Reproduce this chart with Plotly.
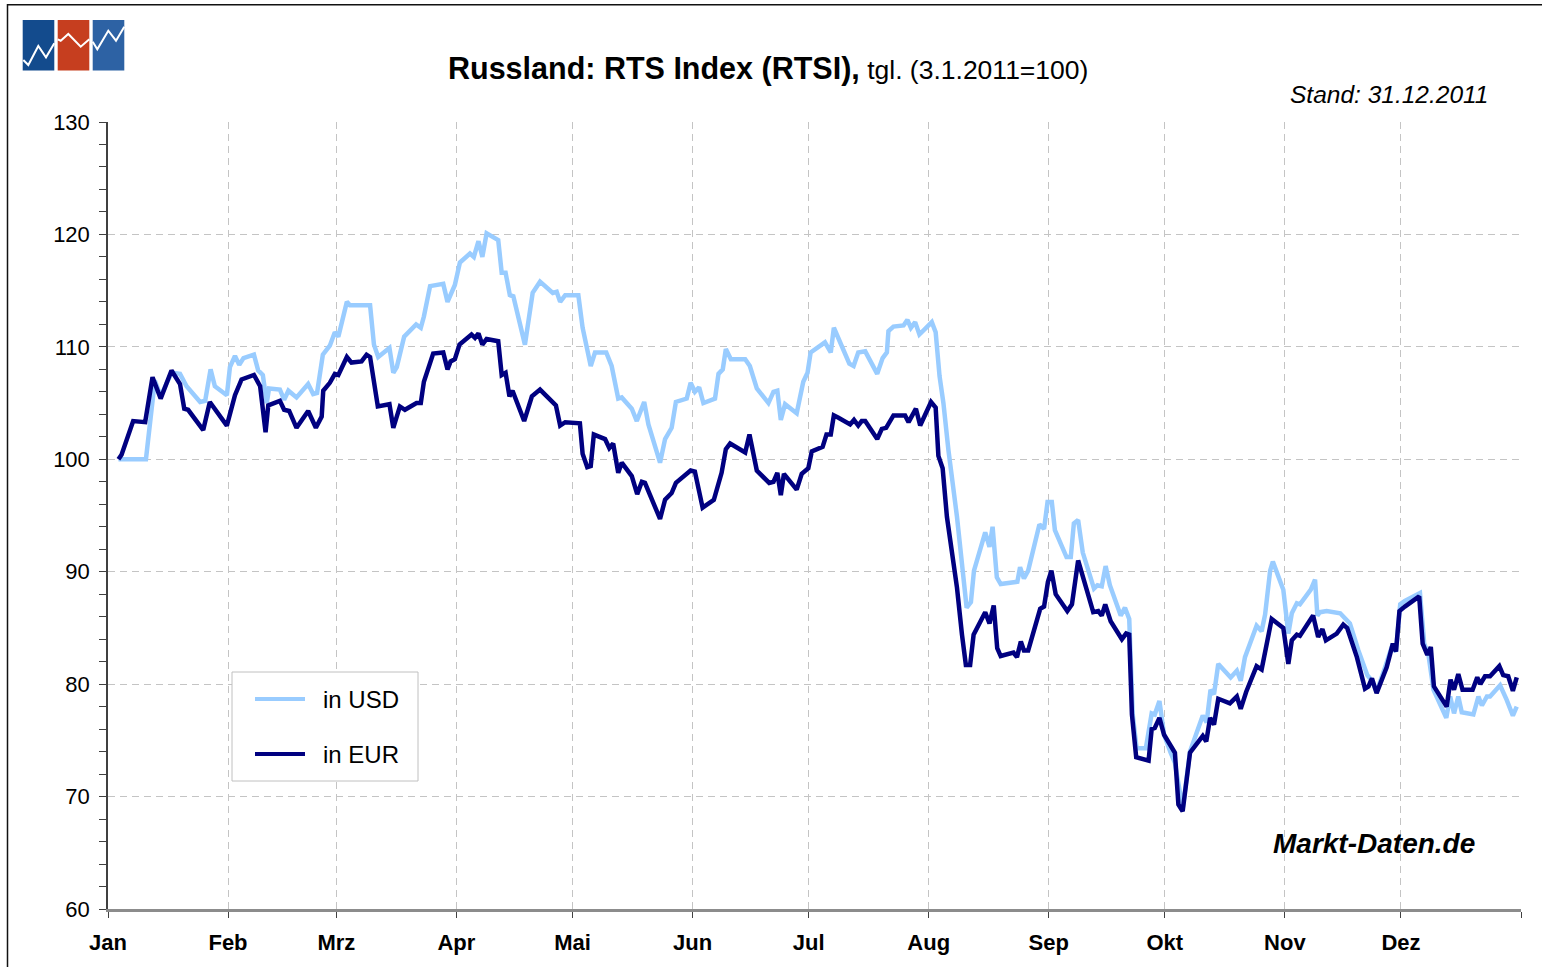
import pandas as pd
import plotly.graph_objects as go

# ---------------- data (days since 1 Jan 2011, index value 3.1.2011 = 100) -------------
usd_day = [2.7, 9.8, 12.1, 13.6, 16.4, 18.6, 20.3, 23.8, 25.1, 26.5, 27.6, 30.7, 31.5, 32.8, 33.9, 35.0,
           37.7, 38.8, 40.0, 41.0, 41.6, 44.4, 45.5, 46.6, 48.7, 51.7, 53.0, 54.0, 55.5, 57.3, 58.6, 59.5,
           61.7, 62.5, 67.7, 68.7, 69.8, 72.7, 73.7, 74.6, 76.5, 79.6, 80.8, 81.6, 83.2, 86.6, 87.7, 89.6,
           90.9, 93.5, 94.5, 95.7, 96.7, 97.8, 100.8, 101.7, 102.7, 103.8, 104.7, 107.7, 109.7, 111.6,
           114.9, 115.9, 116.8, 118.1, 121.5, 122.6, 124.7, 125.8, 128.7, 130.1, 131.8, 132.7, 135.3,
           136.6, 138.5, 139.6, 142.6, 143.9, 145.6, 146.7, 149.5, 150.5, 151.6, 152.7, 153.8, 156.8,
           157.7, 158.8, 159.6, 160.9, 164.6, 165.8, 167.6, 170.6, 171.9, 172.9, 173.8, 174.9, 177.9,
           179.6, 180.7, 181.5, 185.2, 185.8, 186.7, 187.5, 188.7, 191.5, 192.6, 193.8, 195.6, 198.7,
           200.1, 201.2, 201.6, 202.9, 205.5, 206.5, 207.4, 208.5, 209.6, 212.8, 213.8, 214.8, 215.8,
           217.1, 219.3, 220.6, 221.8, 222.9, 223.7, 226.6, 227.7, 228.5, 229.6, 230.6, 234.9, 235.6,
           236.6, 237.7, 240.6, 241.8, 242.7, 243.8, 244.6, 247.6, 248.7, 249.5, 250.6, 251.8, 254.7,
           255.6, 256.7, 257.7, 258.8, 261.6, 262.7, 263.8, 264.7, 265.7, 268.1, 269.6, 270.4, 271.6,
           272.8, 274.5, 275.6, 277.6, 279.5, 282.8, 283.8, 284.8, 285.7, 286.8, 290.0, 291.6, 292.6,
           293.7, 296.7, 298.0, 298.9, 300.2, 300.9, 303.6, 304.9, 305.8, 307.1, 307.9, 310.7, 311.8,
           312.4, 313.1, 314.8, 318.3, 320.8, 323.0, 325.3, 326.5, 327.7, 329.9, 331.6, 332.7, 333.8,
           335.0, 338.9, 340.0, 341.1, 342.4, 344.1, 345.7, 346.7, 347.7, 348.8, 349.7, 352.7, 354.0,
           354.9, 356.2, 357.0, 359.6, 361.3, 362.9, 363.9]
usd = [100.0, 100.0, 107.0, 105.6, 107.7, 107.6, 106.5, 105.1, 105.2, 108.0, 106.5, 105.7, 108.2, 109.2,
       108.4, 109.0, 109.3, 107.9, 107.5, 105.0, 106.3, 106.2, 105.3, 106.1, 105.5, 106.7, 105.8, 105.9,
       109.3, 110.1, 111.3, 110.9, 114.0, 113.7, 113.7, 110.2, 109.1, 109.9, 107.7, 108.2, 110.9, 112.0,
       111.7, 112.7, 115.4, 115.6, 114.0, 115.5, 117.5, 118.3, 118.0, 119.4, 118.0, 120.1, 119.5, 116.6,
       116.6, 114.6, 114.5, 110.2, 114.8, 115.8, 114.8, 114.9, 114.0, 114.6, 114.6, 111.7, 108.3, 109.5,
       109.5, 108.3, 105.4, 105.5, 104.5, 103.4, 105.1, 103.1, 99.7, 101.8, 102.8, 105.1, 105.4, 106.8,
       106.0, 106.4, 105.0, 105.4, 107.6, 108.0, 109.8, 108.9, 108.9, 108.3, 106.3, 105.0, 106.0, 106.1,
       103.5, 104.9, 104.1, 106.9, 107.7, 109.5, 110.4, 110.1, 109.5, 111.7, 110.7, 108.5, 108.3, 109.5,
       109.6, 107.6, 109.0, 109.5, 111.4, 111.8, 111.9, 112.4, 111.7, 112.2, 111.1, 112.2, 111.3, 107.4,
       105.0, 100.8, 94.9, 91.0, 86.8, 87.3, 90.1, 93.5, 92.2, 94.0, 89.5, 88.9, 89.1, 90.4, 89.4, 90.1,
       94.2, 93.8, 96.2, 96.2, 93.7, 91.3, 91.3, 94.3, 94.6, 91.7, 88.5, 88.8, 88.7, 90.5, 88.8, 86.1,
       86.8, 85.8, 77.3, 74.3, 74.3, 77.4, 77.3, 78.5, 75.5, 73.9, 73.0, 68.9, 74.0, 77.2, 76.6, 79.5,
       79.1, 81.8, 80.6, 81.2, 80.3, 82.4, 85.2, 84.7, 86.2, 90.1, 90.9, 88.4, 84.5, 86.3, 87.2, 87.1,
       88.4, 89.3, 86.1, 86.4, 86.5, 86.3, 85.4, 83.0, 80.8, 80.3, 79.3, 81.5, 83.3, 82.9, 87.1, 87.4,
       88.1, 83.6, 82.6, 79.5, 78.1, 77.0, 78.9, 77.4, 78.9, 77.5, 77.3, 78.9, 78.1, 78.9, 78.9, 79.9,
       78.6, 77.2, 78.0]

eur_day = [2.7, 3.5, 6.5, 9.6, 11.5, 13.6, 16.4, 18.6, 19.7, 20.7, 24.6, 26.3, 30.7, 32.8, 34.5, 37.7,
           39.3, 40.7, 41.4, 44.4, 45.5, 46.8, 48.7, 51.7, 53.7, 55.2, 55.6, 57.3, 58.6, 59.5, 61.7, 62.9,
           65.5, 66.8, 67.7, 69.7, 72.7, 73.7, 75.4, 76.7, 79.7, 80.8, 81.6, 83.2, 84.0, 86.6, 87.7, 88.5,
           89.6, 90.8, 93.9, 94.8, 95.7, 96.7, 97.8, 100.8, 101.7, 102.7, 103.7, 104.5, 107.5, 109.5,
           111.6, 115.7, 116.8, 118.1, 121.9, 122.6, 123.8, 124.7, 125.5, 128.4, 129.5, 130.5, 131.8,
           132.7, 135.3, 136.7, 137.9, 138.7, 142.6, 143.9, 145.6, 146.7, 150.5, 151.6, 153.6, 156.5,
           158.5, 159.6, 160.7, 164.6, 165.7, 167.6, 170.8, 171.9, 172.9, 173.8, 174.6, 177.9, 179.2,
           180.9, 181.8, 184.6, 185.6, 186.7, 187.5, 188.7, 191.7, 192.7, 193.8, 194.7, 195.6, 198.7,
           199.9, 201.0, 202.9, 205.9, 206.8, 208.7, 209.8, 212.6, 213.8, 214.5, 215.6, 216.7, 218.0,
           219.3, 220.6, 221.6, 222.7, 223.6, 226.6, 227.7, 228.8, 229.7, 230.6, 233.9, 234.8, 235.8,
           236.6, 237.7, 240.8, 241.8, 242.8, 243.7, 244.8, 247.8, 249.0, 250.6, 254.5, 255.8, 256.7,
           257.6, 259.0, 261.9, 263.0, 263.8, 264.5, 265.6, 268.8, 269.6, 270.4, 271.6, 272.8, 275.6,
           276.5, 277.6, 279.5, 282.8, 283.7, 284.7, 285.7, 286.8, 289.8, 291.6, 292.6, 294.0, 296.7,
           298.0, 300.6, 303.6, 304.9, 305.8, 307.1, 307.9, 311.3, 312.6, 313.7, 314.6, 317.4, 319.1,
           320.1, 322.6, 324.7, 325.6, 326.5, 327.7, 330.3, 331.9, 332.7, 333.6, 335.0, 338.7, 339.6,
           340.8, 341.7, 342.5, 345.8, 346.8, 347.7, 348.8, 349.9, 352.5, 353.7, 354.5, 355.7, 357.0,
           359.4, 360.4, 361.7, 362.9, 363.9]
eur = [100.0, 100.4, 103.4, 103.3, 107.3, 105.4, 107.9, 106.7, 104.5, 104.4, 102.6, 105.1, 103.0, 105.7,
       107.1, 107.5, 106.5, 102.4, 104.8, 105.2, 104.4, 104.3, 102.8, 104.3, 102.8, 103.8, 106.1, 106.8,
       107.6, 107.5, 109.1, 108.6, 108.7, 109.3, 109.1, 104.7, 104.9, 102.8, 104.7, 104.4, 105.0, 105.0,
       106.9, 108.4, 109.4, 109.5, 108.0, 108.7, 108.9, 110.2, 111.1, 110.8, 111.2, 110.2, 110.7, 110.5,
       107.5, 107.7, 105.6, 106.1, 103.4, 105.6, 106.2, 104.8, 103.0, 103.3, 103.2, 100.5, 99.3, 99.4,
       102.2, 101.8, 101.0, 101.4, 98.8, 99.7, 98.5, 96.9, 98.0, 97.9, 94.7, 96.4, 97.0, 97.9, 99.0,
       98.9, 95.7, 96.4, 98.8, 100.9, 101.4, 100.6, 102.2, 99.0, 97.9, 98.0, 98.8, 96.8, 98.7, 97.3,
       98.7, 99.2, 100.7, 101.1, 102.2, 102.2, 103.9, 103.7, 103.1, 103.5, 103.0, 103.4, 103.4, 101.8,
       102.7, 102.8, 103.9, 103.9, 103.3, 104.5, 103.0, 105.1, 104.6, 100.3, 99.2, 94.9, 91.6, 88.6,
       84.4, 81.7, 81.7, 84.4, 86.4, 85.4, 87.0, 83.2, 82.5, 82.8, 82.4, 83.8, 83.0, 83.0, 86.7, 86.9,
       89.1, 90.1, 88.0, 86.5, 87.1, 91.0, 86.4, 86.5, 86.1, 87.1, 85.6, 84.0, 84.5, 84.4, 77.3, 73.5,
       73.2, 76.0, 76.1, 77.0, 75.5, 73.9, 69.3, 68.7, 73.9, 75.4, 74.9, 77.0, 76.4, 78.7, 78.3, 78.9,
       77.8, 79.3, 81.6, 81.3, 85.8, 85.0, 81.8, 83.9, 84.4, 84.3, 86.1, 84.2, 84.9, 83.9, 84.5, 85.3,
       85.0, 82.4, 79.6, 79.8, 80.5, 79.2, 81.5, 83.6, 82.9, 86.5, 86.9, 87.8, 83.6, 82.6, 83.3, 79.8,
       78.0, 80.4, 79.5, 80.9, 79.5, 79.5, 80.6, 80.0, 80.7, 80.7, 81.6, 80.8, 80.7, 79.4, 80.6]

series_names = ["in USD", "in EUR"]
month_labels = ["Jan", "Feb", "Mrz", "Apr", "Mai", "Jun", "Jul", "Aug", "Sep", "Okt", "Nov", "Dez", ""]
y_ticks = [60, 70, 80, 90, 100, 110, 120, 130]

# ---------------- styling ----------------
USD_COLOR = "#99ccff"
EUR_COLOR = "#000080"
FONT = "Liberation Sans, Arial, sans-serif"
GRID = "#c4c4c4"

W, H = 1542, 967
L, R, T, B = 108, 1521, 122, 909   # plot area in screen pixels


def px(x):
    return (x - L) / (R - L)


def py(y):
    return (B - y) / (B - T)


base = pd.Timestamp("2011-01-01")
usd_dates = base + pd.to_timedelta(usd_day, unit="D")
eur_dates = base + pd.to_timedelta(eur_day, unit="D")
month_starts = pd.date_range("2011-01-01", "2012-01-01", freq="MS")

fig = go.Figure()
fig.add_trace(go.Scatter(x=usd_dates, y=usd, mode="lines", name=series_names[0],
                         line=dict(color=USD_COLOR, width=4.5), showlegend=False))
fig.add_trace(go.Scatter(x=eur_dates, y=eur, mode="lines", name=series_names[1],
                         line=dict(color=EUR_COLOR, width=4.5), showlegend=False))

shapes = []
# outer frame (left and top edges visible)
shapes.append(dict(type="rect", xref="paper", yref="paper", x0=px(7.5), x1=px(1560), y0=py(990), y1=py(4.7),
                   line=dict(color="#111111", width=1.5), layer="below"))
# logo
logo_cols = ["#134b8d", "#c63e1f", "#2d62a4"]
logo_x = [(22.7, 54.3), (57.7, 89.3), (92.7, 124.3)]
for (a, b), c in zip(logo_x, logo_cols):
    shapes.append(dict(type="rect", xref="paper", yref="paper", x0=px(a), x1=px(b), y0=py(70.5), y1=py(20),
                       fillcolor=c, line=dict(width=0)))
zig = [[(23.3, 60), (28.3, 65), (38.3, 46), (46, 57.3), (54.3, 43.3)],
       [(57.7, 39.3), (60.7, 40.7), (68.3, 34), (80.7, 46.7), (89.3, 39.3)],
       [(92.7, 41.7), (97.3, 49.3), (108.3, 30.7), (116, 40.7), (124.3, 26.7)]]
for pts in zig:
    path = "M " + " L ".join(f"{px(x):.5f},{py(y):.5f}" for x, y in pts)
    shapes.append(dict(type="path", xref="paper", yref="paper", path=path,
                       line=dict(color="white", width=2)))
# legend box
shapes.append(dict(type="rect", xref="paper", yref="paper", x0=px(232), x1=px(418), y0=py(781), y1=py(672),
                   fillcolor="white", line=dict(color="#c0c0c0", width=1)))
for yy, col in [(699, USD_COLOR), (754, EUR_COLOR)]:
    shapes.append(dict(type="line", xref="paper", yref="paper", x0=px(255), x1=px(305), y0=py(yy), y1=py(yy),
                       line=dict(color=col, width=4)))

annotations = [
    dict(x=px(768), y=py(69), xref="paper", yref="paper", showarrow=False, xanchor="center", yanchor="middle",
         text="<b>Russland: RTS Index (RTSI),</b><span style='font-size:26.5px'> tgl. (3.1.2011=100)</span>",
         font=dict(family=FONT, size=30.5, color="black")),
    dict(x=px(1490), y=py(94), xref="paper", yref="paper", showarrow=False, xanchor="right", yanchor="middle",
         text="<i>Stand: 31.12.2011</i>", font=dict(family=FONT, size=24.5, color="black")),
    dict(x=px(1477), y=py(843), xref="paper", yref="paper", showarrow=False, xanchor="right", yanchor="middle",
         text="<b><i>Markt-Daten.de</i></b>", font=dict(family=FONT, size=28, color="black")),
    dict(x=px(321), y=py(699), xref="paper", yref="paper", showarrow=False, xanchor="left", yanchor="middle",
         text=series_names[0], font=dict(family=FONT, size=24, color="black")),
    dict(x=px(321), y=py(754), xref="paper", yref="paper", showarrow=False, xanchor="left", yanchor="middle",
         text=series_names[1], font=dict(family=FONT, size=24, color="black")),
]

fig.update_layout(
    width=W, height=H,
    margin=dict(l=L, r=W - R, t=T, b=H - B, autoexpand=False),
    paper_bgcolor="white", plot_bgcolor="white",
    font=dict(family=FONT, color="black"),
    shapes=shapes, annotations=annotations,
    showlegend=False,
)
fig.update_xaxes(
    type="date", range=[month_starts[0], month_starts[-1]], automargin=False,
    tickmode="array", tickvals=month_starts, ticktext=[f"<b>{m}</b>" if m else "" for m in month_labels],
    ticks="outside", ticklen=6, tickcolor="#404040", tickwidth=1,
    tickfont=dict(family=FONT, size=22, color="black"), ticklabelstandoff=6,
    showgrid=True, gridcolor=GRID, griddash="7px,5px", gridwidth=1,
    showline=True, linecolor="#8c8c8c", linewidth=3, zeroline=False,
)
fig.update_yaxes(
    range=[60, 130], tickmode="array", tickvals=y_ticks, automargin=False,
    ticks="outside", ticklen=7, tickcolor="#404040", tickwidth=1,
    tickfont=dict(family=FONT, size=22, color="black"), ticklabelstandoff=5,
    showgrid=True, gridcolor=GRID, griddash="7px,5px", gridwidth=1,
    showline=True, linecolor="#404040", linewidth=1.5, zeroline=False,
    minor=dict(dtick=2, tick0=60, ticks="outside", ticklen=7, tickcolor="#404040", showgrid=False),
)

fig.write_html("out.html", config={"displayModeBar": False},
               post_script="document.body.style.margin='0px';document.body.style.overflow='hidden';")
